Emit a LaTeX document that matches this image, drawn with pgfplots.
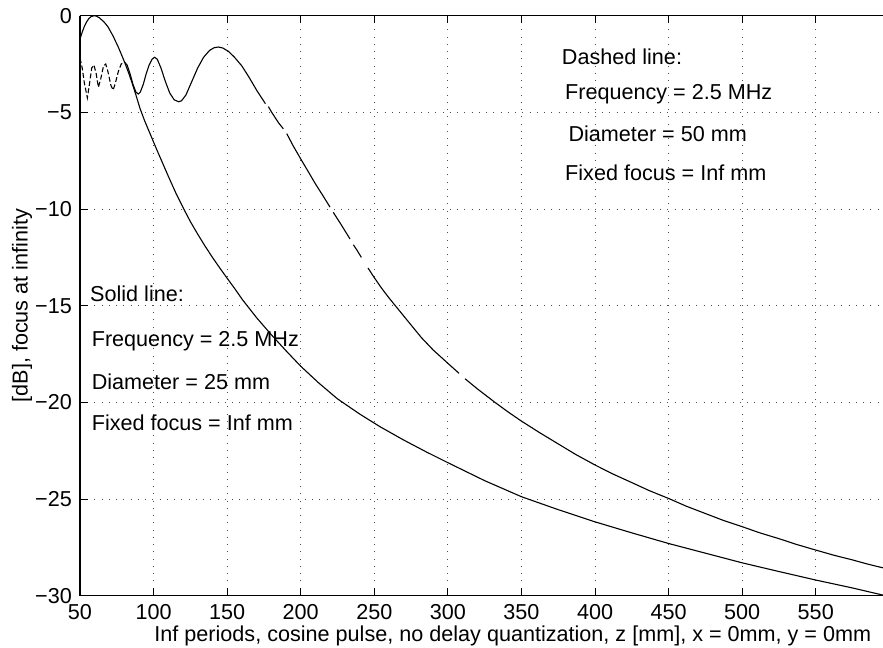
\documentclass[border=0pt]{standalone}
\usepackage{pgfplots}
\pgfplotsset{compat=1.18}
\usepackage{fontspec}
\setmainfont{Liberation Sans}
\newcommand\f{\fontsize{21.6bp}{25bp}\selectfont}
\begin{document}
\begin{tikzpicture}
\begin{axis}[
  at={(0,0)}, anchor=south west,
  scale only axis, width=803bp, height=580bp,
  xmin=50, xmax=595.7, ymin=-30, ymax=0,
  axis x line*=box, axis y line*=left,
  axis line style={line width=1.2bp, black},
  xtick={50,100,...,550},
  xticklabels={50,100,150,200,250,300,350,400,450,500,550},
  ytick={-30,-25,...,0},
  yticklabels={−30,−25,−20,−15,−10,−5,0},
  tick align=inside, xtick pos=both, ytick pos=left,
  major tick length=7.5bp,
  tick style={line width=1bp, black},
  grid=major,
  grid style={black!70, line width=0.85bp, dash pattern=on 0.85bp off 6.4bp},
  tick label style={font=\f},
  label style={font=\f},
  xticklabel style={anchor=base, yshift=-23.6bp, inner sep=0pt},
  yticklabel style={anchor=east, xshift=-8bp, inner sep=0pt},
  xlabel={Inf periods, cosine pulse, no delay quantization, z [mm], x = 0mm, y = 0mm},
  xlabel style={at={(axis description cs:0.539,0)}, anchor=base, yshift=-45.8bp, inner sep=0pt},
  ylabel={[dB], focus at infinity},
  ylabel style={at={(axis description cs:-0.0722,0.5)}, anchor=center, inner sep=0pt},
  unbounded coords=jump,
  clip=true,
]
% Dashed line (D = 50 mm), oscillating near field part
\addplot[black, line width=1.1bp, dash pattern=on 5bp off 2.5bp] coordinates {
(50,-2.2) (51.5,-2.7) (53,-3.5) (55,-4.25) (56.5,-3.5) (58,-2.7) (59.5,-2.55)
(61,-3.0) (62.5,-3.7) (64,-3.3) (66,-2.6) (67.5,-2.5) (69,-2.9) (71,-3.6)
(72.5,-3.85) (74,-3.5) (76,-2.9) (78,-2.5) (80,-2.38)};
% Dashed line (D = 50 mm), rest
\addplot[black, line width=1.1bp] coordinates {
(80,-2.38) (82,-2.55) (84,-3.0) (86,-3.55) (88,-3.95) (89.6,-4.05) (91,-3.95)
(93,-3.55) (95,-3.0) (97,-2.55) (99,-2.25) (100.7,-2.15) (102.5,-2.25) (105,-2.7)
(108,-3.4) (111,-4.0) (114,-4.35) (117,-4.45) (119,-4.4) (122,-4.1) (126,-3.4)
(130,-2.7) (134,-2.15) (138,-1.8) (141,-1.66) (144,-1.62) (147,-1.67) (151,-1.85)
(155,-2.15) (160,-2.6) (165,-3.2) (170,-3.85) (176,-4.55) (176,nan) (178,-4.7)
(180.3,-5.0) (185,-5.55) (188.2,-5.85) (188.2,nan) (190.5,-6.1) (195,-6.75)
(200.7,-7.5) (205,-8.05) (210,-8.7) (215,-9.3) (219.9,-9.9) (219.9,nan)
(222.1,-10.17) (227,-10.75) (233.5,-11.55) (233.5,nan) (235.8,-11.85) (238,-12.1)
(241.2,-12.5) (241.2,nan) (245.7,-13.05) (250,-13.55) (255,-14.1) (260,-14.6)
(267.5,-15.3) (275,-16.0) (282,-16.65) (290,-17.29) (300,-17.98) (307.6,-18.5)
(307.6,nan) (311.7,-18.78) (320,-19.3) (332,-20.0) (341,-20.5) (350,-20.97)
(362,-21.55) (375,-22.15) (387,-22.7) (400,-23.24) (412,-23.7) (425,-24.15)
(437,-24.57) (450,-24.97) (462,-25.37) (475,-25.75) (487,-26.1) (500,-26.43)
(512,-26.75) (525,-27.05) (537,-27.35) (550,-27.64) (562,-27.9) (575,-28.15)
(585,-28.36) (595.7,-28.56)};
% Solid line (D = 25 mm)
\addplot[black, line width=1.1bp] coordinates {
(50,-1.2) (51.5,-0.85) (53,-0.55) (54.5,-0.32) (56,-0.15) (57.5,-0.05) (59.5,0)
(61,-0.02) (63,-0.1) (64.5,-0.2) (66,-0.3) (67.5,-0.43) (69.2,-0.6) (71,-0.85)
(72.5,-1.05) (74,-1.3) (76,-1.62) (78,-1.98) (80.6,-2.46) (83,-2.95) (85.1,-3.41)
(88,-4.1) (90.8,-4.8) (94,-5.45) (97.6,-6.1) (102,-6.9) (106,-7.6) (110,-8.3)
(115,-9.15) (120.2,-9.95) (125,-10.65) (130,-11.3) (135,-11.92) (140,-12.5)
(145,-13.05) (150,-13.58) (155,-14.1) (160.5,-14.7) (170,-15.62) (180,-16.5)
(190,-17.33) (200,-18.13) (212,-18.98) (225,-19.82) (240,-20.6) (253.9,-21.26)
(270,-21.95) (285,-22.55) (300,-23.12) (325,-24.05) (350,-24.88) (375,-25.55)
(400,-26.18) (425,-26.75) (450,-27.3) (475,-27.8) (500,-28.3) (525,-28.75)
(550,-29.19) (575,-29.6) (595.7,-29.97)};
\node[anchor=base west, inner sep=0pt, font=\f] at (axis cs:377.4,-2.55) {Dashed line:};
\node[anchor=base west, inner sep=0pt, font=\f] at (axis cs:379.6,-4.36) {Frequency = 2.5 MHz};
\node[anchor=base west, inner sep=0pt, font=\f] at (axis cs:381.9,-6.52) {Diameter = 50 mm};
\node[anchor=base west, inner sep=0pt, font=\f] at (axis cs:379.6,-8.5) {Fixed focus = Inf mm};
\node[anchor=base west, inner sep=0pt, font=\f] at (axis cs:56.8,-14.8) {Solid line:};
\node[anchor=base west, inner sep=0pt, font=\f] at (axis cs:57.9,-17.12) {Frequency = 2.5 MHz};
\node[anchor=base west, inner sep=0pt, font=\f] at (axis cs:57.9,-19.36) {Diameter = 25 mm};
\node[anchor=base west, inner sep=0pt, font=\f] at (axis cs:57.9,-21.43) {Fixed focus = Inf mm};
\end{axis}
\pgfresetboundingbox
\path (-80bp,-52.3bp) rectangle (803bp,595.7bp);
\end{tikzpicture}
\end{document}
